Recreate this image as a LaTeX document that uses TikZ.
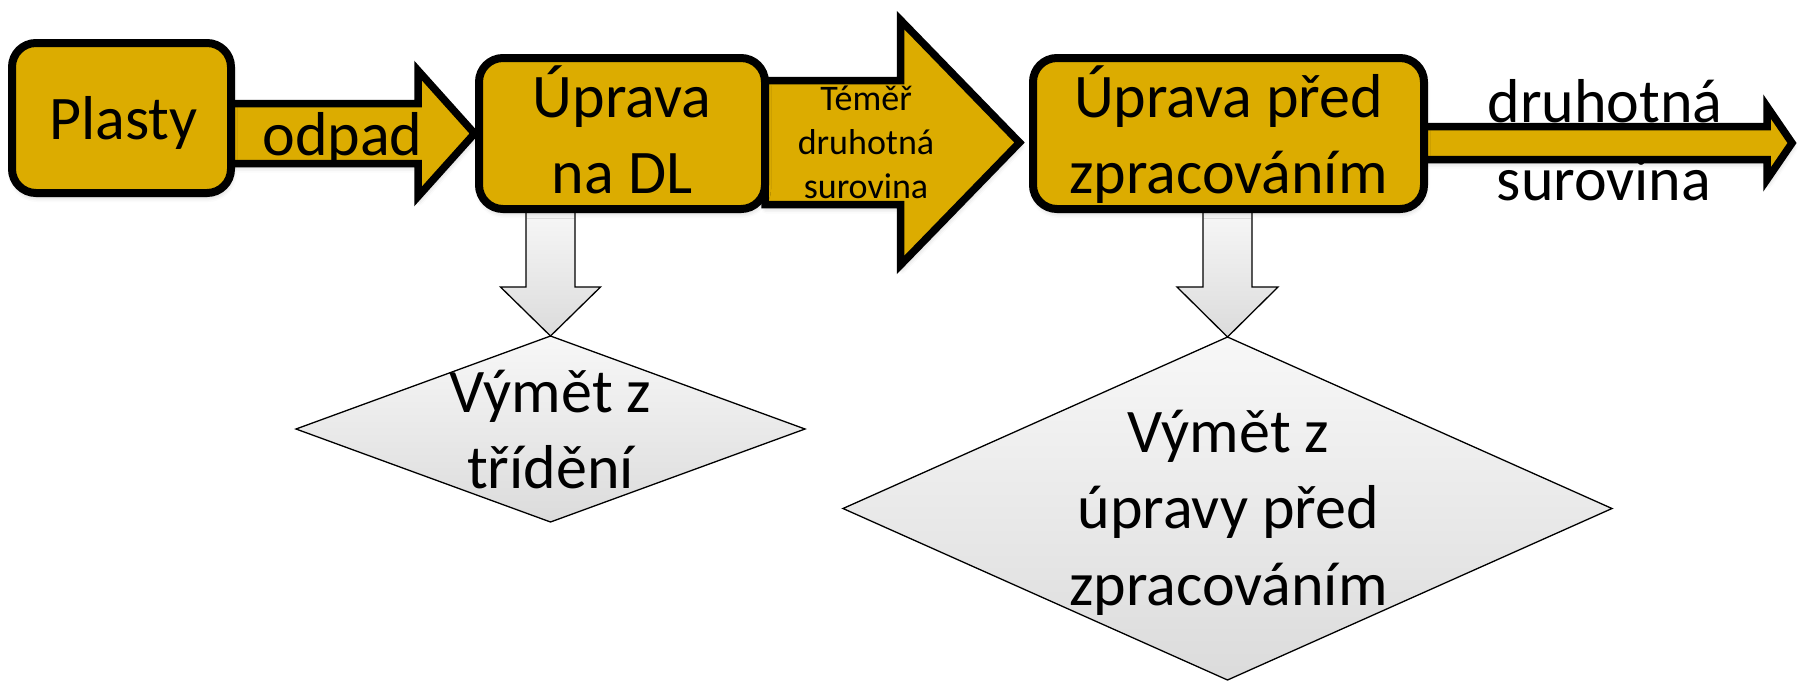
\documentclass[tikz,border=0pt]{standalone}
\usepackage{fontspec}
\setmainfont{Carlito}
\usetikzlibrary{shapes.geometric,calc,shadows.blur}
\pgfdeclarelayer{background}
\pgfsetlayers{background,main}
\definecolor{gold}{RGB}{220,172,0}
\begin{document}
\begin{tikzpicture}[x=1pt,y=-1pt,
  shade/.style={blur shadow={shadow xshift=1pt, shadow yshift=-4pt, shadow blur radius=5pt, shadow opacity=22}},
  ybox/.style={draw=black, line width=8pt, fill=gold, rounded corners=24pt, inner sep=0pt, outer sep=0pt, shade},
  yarrow/.style={draw=black, line width=7.5pt, fill=gold, line join=miter, shade},
  garrow/.style={draw=black, line width=1.3pt, top color=gray!6, bottom color=gray!28},
  gdiam/.style={diamond, draw=black, line width=1.3pt, top color=gray!6, bottom color=gray!28, inner sep=0pt, outer sep=0pt},
  big/.style={font=\fontsize{62}{76}\selectfont, inner sep=0pt, anchor=base},
  small/.style={font=\fontsize{36}{44}\selectfont, inner sep=0pt, anchor=base}]
\useasboundingbox (0,0) rectangle (1799,681);

% boxes
\node[ybox, minimum width=219pt, minimum height=150pt] (plasty) at (121.5,118) {};
\node[ybox, minimum width=286pt, minimum height=151pt] (uprava1) at (622,133.5) {};
\node[ybox, minimum width=391pt, minimum height=151pt] (uprava2) at (1228.5,133.5) {};
\node[gdiam, minimum width=509pt, minimum height=186pt] (vymet1) at (550.5,429) {};
\node[gdiam, minimum width=769pt, minimum height=343pt] (vymet2) at (1227.5,508.5) {};

% box texts
\node[big] (plastyT) at ($(plasty.center)+(2,21)$) {Plasty};
\node[big] (uprava1a) at ($(uprava1.center)+(0,-16.5)$) {Úprava};
\node[big] (uprava1b) at ($(uprava1.center)+(0,59.5)$) {na DL};
\node[big] (uprava2a) at ($(uprava2.center)+(0,-16.5)$) {Úprava před};
\node[big] (uprava2b) at ($(uprava2.center)+(0,59.5)$) {zpracováním};
\node[big] (vymet1a) at ($(vymet1.center)+(0,-17)$) {Výmět z};
\node[big] (vymet1b) at ($(vymet1.center)+(0,59)$) {třídění};
\node[big] (vymet2a) at ($(vymet2.center)+(1,-56.5)$) {Výmět z};
\node[big] (vymet2b) at ($(vymet2.center)+(1,19.5)$) {úpravy před};
\node[big] (vymet2c) at ($(vymet2.center)+(1,96.5)$) {zpracováním};

% connectors
\coordinate (outEnd) at ($(uprava2.east)+(368,9.5)$);
\begin{pgfonlayer}{background}
\draw[yarrow] ($(plasty.east |- uprava1.west)+(0,-30)$) -- ($(uprava1.west)+(-61,-30)$)
  -- ($(uprava1.west)+(-61,-63)$) -- ($(uprava1.west)+(-4.5,0)$) -- ($(uprava1.west)+(-61,63)$)
  -- ($(uprava1.west)+(-61,30)$) -- ($(plasty.east |- uprava1.west)+(0,30)$) -- cycle;
\draw[yarrow] ($(uprava1.east)+(0,-53)$) -- ($(uprava2.west)+(-132.5,-53)$)
  -- ($(uprava2.west)+(-132.5,-113.5)$) -- ($(uprava2.west)+(-13.5,9)$) -- ($(uprava2.west)+(-132.5,131.5)$)
  -- ($(uprava2.west)+(-132.5,71)$) -- ($(uprava1.east)+(0,71)$) -- cycle;
\draw[yarrow] ($(uprava2.east)+(0,-7)$) -- ($(outEnd)+(-25,-16.5)$)
  -- ($(outEnd)+(-25,-36.5)$) -- (outEnd) -- ($(outEnd)+(-25,36.5)$)
  -- ($(outEnd)+(-25,16.5)$) -- ($(uprava2.east)+(0,26)$) -- cycle;
\draw[garrow] ($(vymet1.north |- uprava1.south)+(-24.5,0)$) -- ($(vymet1.north)+(-24.5,-49)$)
  -- ($(vymet1.north)+(-50,-49)$) -- (vymet1.north) -- ($(vymet1.north)+(50,-49)$)
  -- ($(vymet1.north)+(24.5,-49)$) -- ($(vymet1.north |- uprava1.south)+(24.5,0)$) -- cycle;
\draw[garrow] ($(vymet2.north |- uprava2.south)+(-24.5,0)$) -- ($(vymet2.north)+(-24.5,-50)$)
  -- ($(vymet2.north)+(-50.5,-50)$) -- (vymet2.north) -- ($(vymet2.north)+(50.5,-50)$)
  -- ($(vymet2.north)+(24.5,-50)$) -- ($(vymet2.north |- uprava2.south)+(24.5,0)$) -- cycle;
\end{pgfonlayer}

% connector labels
\node[big] (odpadT) at (342.5,155) {odpad};
\node[small] (temerA) at (866,110) {Téměř};
\node[small] (temerB) at (866,154) {druhotná};
\node[small] (temerC) at (866,198) {surovina};
\node[big] (druhA) at (1605,122) {druhotná};
\node[big] (druhB) at (1604,200) {surovina};
\end{tikzpicture}
\end{document}
